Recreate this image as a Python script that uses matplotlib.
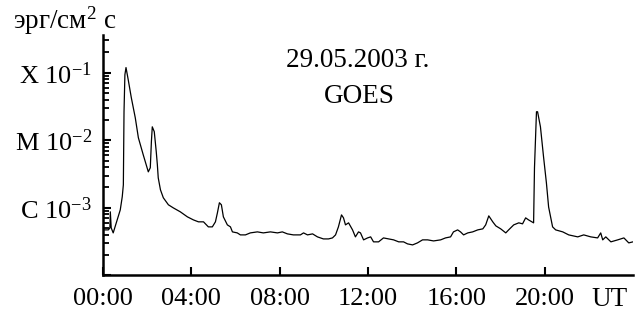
import matplotlib
matplotlib.use("Agg")
import matplotlib.pyplot as plt
from matplotlib.ticker import FixedLocator, LogLocator, NullFormatter, FixedFormatter

plt.rcParams['font.family'] = ['Liberation Serif', 'DejaVu Serif']
plt.rcParams['mathtext.fontset'] = 'custom'
plt.rcParams['mathtext.rm'] = 'Liberation Serif'
plt.rcParams['mathtext.it'] = 'Liberation Serif:italic'

# GOES flux, 29.05.2003 (hours UT, erg/cm^2 s)
hours = [0.00, 0.24, 0.31, 0.33, 0.37, 0.46, 0.60, 0.78, 0.87, 0.92, 0.95, 0.99, 1.04,
         1.14, 1.28, 1.46, 1.60, 1.82, 2.05, 2.14, 2.19, 2.23, 2.32, 2.41, 2.46, 2.50,
         2.60, 2.73, 2.96, 3.18, 3.50, 3.82, 4.09, 4.32, 4.55, 4.64, 4.77, 4.95, 5.09,
         5.18, 5.27, 5.36, 5.45, 5.63, 5.77, 5.86, 6.08, 6.22, 6.45, 6.67, 6.99, 7.26,
         7.58, 7.90, 8.12, 8.35, 8.62, 8.94, 9.08, 9.26, 9.49, 9.71, 9.98, 10.21, 10.39,
         10.53, 10.66, 10.80, 10.89, 10.98, 11.12, 11.30, 11.43, 11.57, 11.66, 11.80,
         11.98, 12.12, 12.25, 12.48, 12.70, 12.93, 13.16, 13.39, 13.61, 13.79, 14.02,
         14.24, 14.47, 14.70, 14.97, 15.29, 15.51, 15.74, 15.87, 16.06, 16.19, 16.33,
         16.52, 16.74, 16.97, 17.20, 17.33, 17.47, 17.65, 17.79, 18.01, 18.24, 18.37,
         18.60, 18.83, 19.00, 19.14, 19.27, 19.50, 19.54, 19.63, 19.68, 19.81, 19.95,
         20.08, 20.18, 20.36, 20.50, 20.82, 21.09, 21.50, 21.77, 22.09, 22.40, 22.54,
         22.63, 22.77, 23.00, 23.31, 23.59, 23.81, 24.00]
flux = [4.72e-4, 4.72e-4, 5.05e-4, 8.73e-4, 5.05e-4, 4.26e-4, 6.00e-4, 9.33e-4, 1.46e-3,
        2.19e-3, 2.64e-2, 9.33e-2, 1.19e-1, 7.87e-2, 4.27e-2, 2.15e-2, 1.09e-2, 6.10e-3,
        3.41e-3, 3.92e-3, 9.51e-3, 1.58e-2, 1.34e-2, 6.77e-3, 4.34e-3, 2.78e-3, 1.85e-3,
        1.41e-3, 1.11e-3, 1.00e-3, 8.73e-4, 7.36e-4, 6.64e-4, 6.21e-4, 6.21e-4, 5.80e-4,
        5.23e-4, 5.23e-4, 6.21e-4, 8.44e-4, 1.19e-3, 1.11e-3, 7.36e-4, 5.60e-4, 5.23e-4,
        4.41e-4, 4.26e-4, 3.98e-4, 3.98e-4, 4.26e-4, 4.41e-4, 4.26e-4, 4.41e-4, 4.26e-4,
        4.41e-4, 4.12e-4, 3.98e-4, 3.98e-4, 4.26e-4, 3.98e-4, 4.12e-4, 3.72e-4, 3.47e-4,
        3.47e-4, 3.59e-4, 3.98e-4, 5.23e-4, 7.87e-4, 7.11e-4, 5.60e-4, 6.00e-4, 4.72e-4,
        3.72e-4, 4.41e-4, 4.26e-4, 3.36e-4, 3.59e-4, 3.72e-4, 3.14e-4, 3.14e-4, 3.59e-4,
        3.47e-4, 3.36e-4, 3.14e-4, 3.14e-4, 2.93e-4, 2.83e-4, 3.03e-4, 3.36e-4, 3.36e-4,
        3.24e-4, 3.36e-4, 3.59e-4, 3.72e-4, 4.41e-4, 4.72e-4, 4.41e-4, 3.98e-4, 4.26e-4,
        4.41e-4, 4.72e-4, 4.89e-4, 5.60e-4, 7.61e-4, 6.21e-4, 5.41e-4, 4.89e-4, 4.26e-4,
        4.72e-4, 5.60e-4, 6.00e-4, 5.80e-4, 7.11e-4, 6.64e-4, 6.00e-4, 3.92e-3, 2.64e-2,
        2.64e-2, 1.58e-2, 5.70e-3, 2.34e-3, 1.03e-3, 5.23e-4, 4.72e-4, 4.41e-4, 3.98e-4,
        3.72e-4, 3.98e-4, 3.72e-4, 3.59e-4, 4.26e-4, 3.36e-4, 3.72e-4, 3.14e-4, 3.36e-4,
        3.59e-4, 3.03e-4, 3.14e-4]

xticks = [0, 4, 8, 12, 16, 20]
xticklabels = ['00:00', '04:00', '08:00', '12:00', '16:00', '20:00']
yticks = [1e-4, 1e-3, 1e-2, 1e-1]
yticklabels = ['', 'C 10$^{-3}$', 'M 10$^{-2}$', 'X 10$^{-1}$']

fig = plt.figure(figsize=(6.4, 3.13), dpi=100)
ax = fig.add_axes([0.161, 0.120, 0.828, 0.768])
ax.plot(hours, flux, color='black', lw=0.9)
ax.set_yscale('log')
ax.set_xlim(0, 24)
ax.set_ylim(1e-4, 3.6e-1)

for s in ['top', 'right']:
    ax.spines[s].set_visible(False)
for s in ['left', 'bottom']:
    ax.spines[s].set_linewidth(1.8)

ax.xaxis.set_major_locator(FixedLocator(xticks))
ax.xaxis.set_major_formatter(FixedFormatter(xticklabels))
ax.yaxis.set_major_locator(FixedLocator(yticks))
ax.yaxis.set_major_formatter(FixedFormatter(yticklabels))
ax.yaxis.set_minor_locator(LogLocator(base=10, subs=[2, 3, 4, 5, 6, 7, 8, 9]))
ax.yaxis.set_minor_formatter(NullFormatter())

ax.tick_params(axis='both', which='major', direction='in', length=6, width=1.5,
               labelsize=19, pad=8)
ax.tick_params(axis='y', which='minor', direction='in', length=4.5, width=1.3)
ax.tick_params(axis='x', which='major', pad=9)

fig.text(13/640, 1 - 21/313, 'эрг/см$^2$ с', fontsize=19.5, ha='left', va='center')
fig.text(358/640, 1 - 60/313, '29.05.2003 г.', fontsize=19.5, ha='center', va='center')
fig.text(359/640, 1 - 97/313, 'GOES', fontsize=19.5, ha='center', va='center')
fig.text(610/640, 1 - 300/313, 'UT', fontsize=19.5, ha='center', va='center')

fig.savefig('out.png', dpi=100)
